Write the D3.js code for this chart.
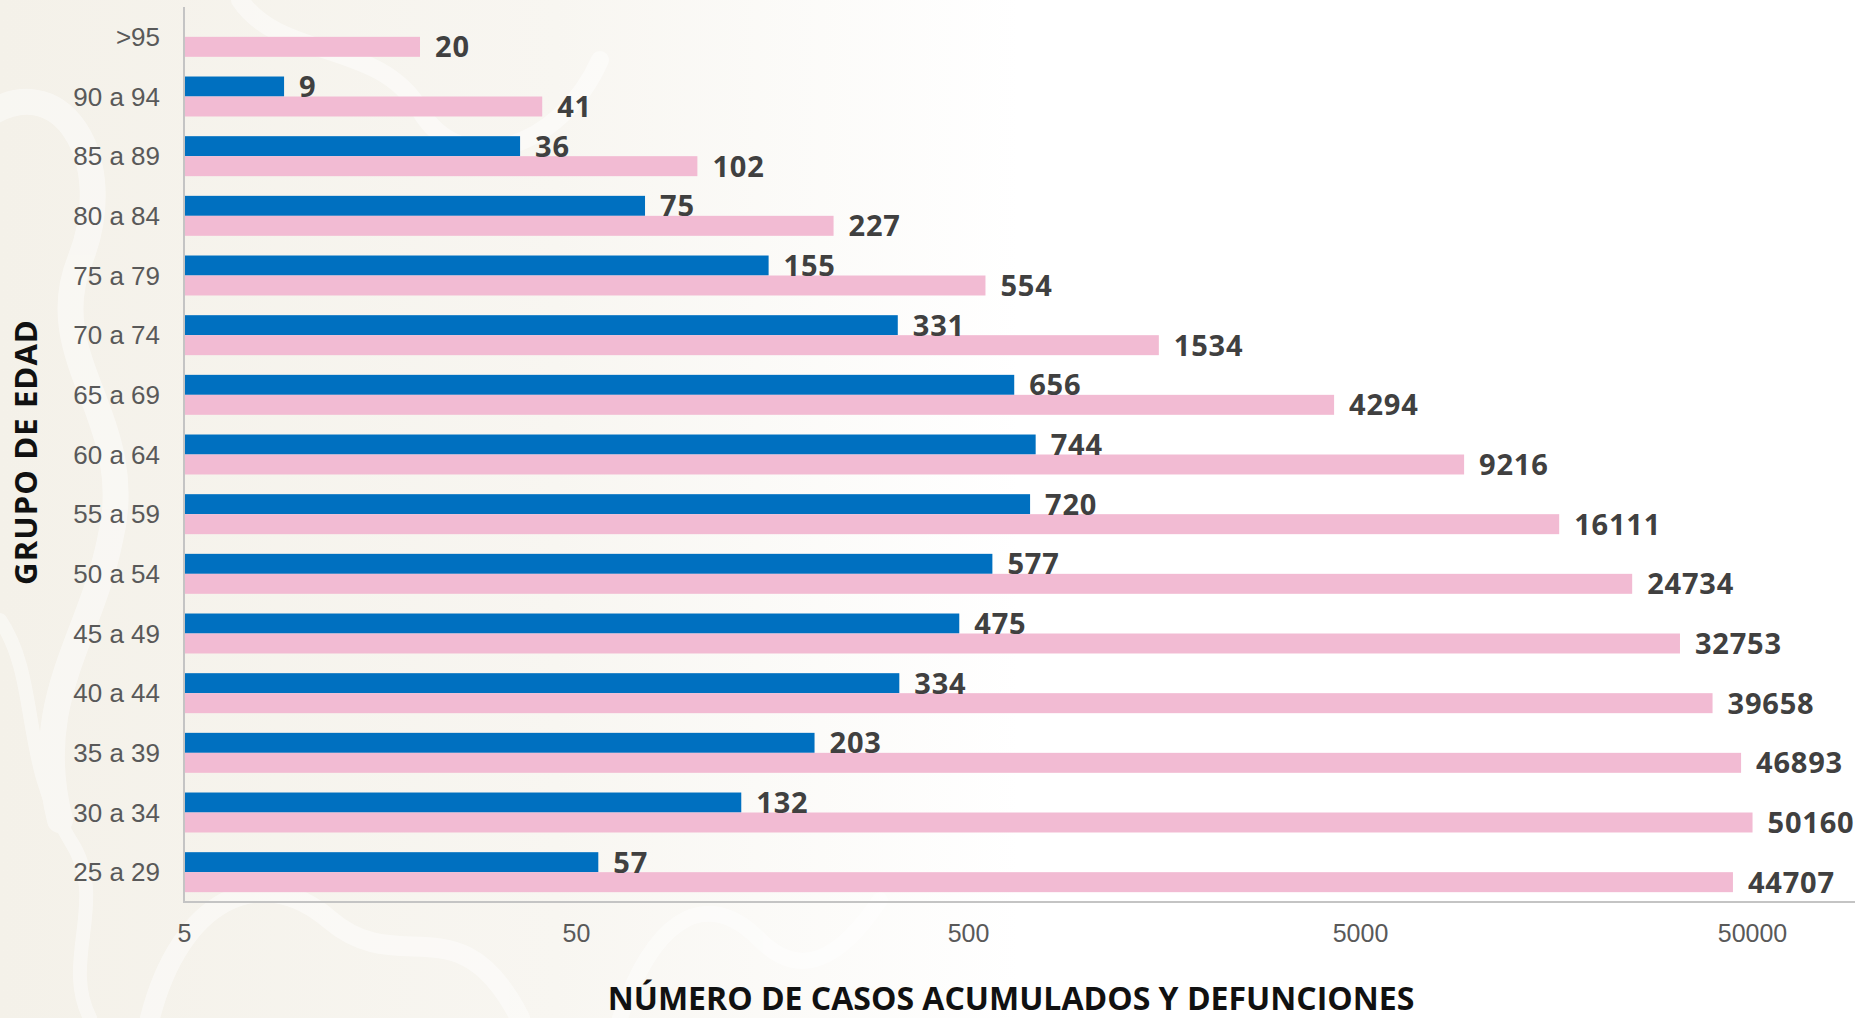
<!DOCTYPE html>
<html>
<head>
<meta charset="utf-8">
<title>Grupo de edad</title>
<style>
  html, body { margin: 0; padding: 0; background: #ffffff; }
  svg { display: block; }
  .cat text { font-family: "Liberation Sans", Arial, sans-serif; font-size: 26px; fill: #595959; }
  .xaxis text { font-family: "Liberation Sans", Arial, sans-serif; font-size: 25px; fill: #595959; }
  .val { font-family: "Open Sans", "DejaVu Sans", sans-serif; font-weight: 700; font-size: 29px; fill: #404040; letter-spacing: 0.8px; }
  .title { font-family: "Open Sans", "DejaVu Sans", sans-serif; font-weight: 700; fill: #111111; }
</style>
</head>
<body>
<script src="https://cdnjs.cloudflare.com/ajax/libs/d3/7.8.5/d3.min.js"></script>
<script>
// grupos de edad (de arriba hacia abajo)
var grupos = [">95", "90 a 94", "85 a 89", "80 a 84", "75 a 79", "70 a 74", "65 a 69",
              "60 a 64", "55 a 59", "50 a 54", "45 a 49", "40 a 44", "35 a 39", "30 a 34", "25 a 29"];
// defunciones (azul)
var defunciones = [null, 9, 36, 75, 155, 331, 656, 744, 720, 577, 475, 334, 203, 132, 57];
// casos acumulados (rosa)
var casos = [20, 41, 102, 227, 554, 1534, 4294, 9216, 16111, 24734, 32753, 39658, 46893, 50160, 44707];
// marcas del eje x
var ticksX = [5, 50, 500, 5000, 50000];

var width = 1855, height = 1018;
var margin = {left: 184, top: 7, right: 103, bottom: 116};

var svg = d3.select("body").append("svg")
    .attr("width", width)
    .attr("height", height);

// fondo beige que se desvanece a blanco
var defs = svg.append("defs");
var grad = defs.append("linearGradient").attr("id", "fondo")
    .attr("x1", "0").attr("x2", "1").attr("y1", "0").attr("y2", "0");
grad.append("stop").attr("offset", "0%").attr("stop-color", "#f4f1e9");
grad.append("stop").attr("offset", "30%").attr("stop-color", "#f8f6f1");
grad.append("stop").attr("offset", "55%").attr("stop-color", "#ffffff");
svg.append("rect").attr("width", width).attr("height", height).attr("fill", "url(#fondo)");

// adorno de trazos blancos (decorativo, tenue)
var adorno = svg.append("g").attr("fill", "none").attr("stroke", "#ffffff")
    .attr("stroke-linecap", "round").attr("opacity", 0.45);
adorno.append("path").attr("stroke-width", 26)
    .attr("d", "M-20,120 C60,60 120,160 80,260 C40,360 140,420 110,540 C90,640 30,700 60,820");
adorno.append("path").attr("stroke-width", 20)
    .attr("d", "M150,1018 C180,900 260,860 330,920 C400,980 460,900 520,1018");
adorno.append("path").attr("stroke-width", 18)
    .attr("d", "M240,0 C280,60 380,40 420,110 C460,180 560,150 600,60");
adorno.append("path").attr("stroke-width", 16)
    .attr("d", "M620,1018 C650,930 700,880 760,940 C800,980 840,960 880,900");
adorno.append("path").attr("stroke-width", 14)
    .attr("d", "M0,620 C40,680 20,760 70,840 C110,900 60,960 90,1018");

var x = d3.scaleLog()
    .domain([5, 50000])
    .range([margin.left, 1752]);

var y = d3.scaleBand()
    .domain(grupos)
    .range([margin.top, height - margin.bottom])
    .paddingInner(0.33)
    .paddingOuter(0.165);

var bh = y.bandwidth() / 2;

// barras de defunciones
svg.append("g").selectAll("rect")
    .data(grupos.map(function(g, i) { return {g: g, v: defunciones[i]}; })
        .filter(function(d) { return d.v != null; }))
    .enter().append("rect")
    .attr("x", x(5))
    .attr("y", function(d) { return y(d.g); })
    .attr("width", function(d) { return x(d.v) - x(5); })
    .attr("height", bh)
    .attr("fill", "#0070c0");

// barras de casos
svg.append("g").selectAll("rect")
    .data(grupos.map(function(g, i) { return {g: g, v: casos[i]}; }))
    .enter().append("rect")
    .attr("x", x(5))
    .attr("y", function(d) { return y(d.g) + bh; })
    .attr("width", function(d) { return x(d.v) - x(5); })
    .attr("height", bh)
    .attr("fill", "#f2bbd3");

// etiquetas de valor
svg.append("g").selectAll("text")
    .data(grupos.map(function(g, i) { return {g: g, v: defunciones[i]}; })
        .filter(function(d) { return d.v != null; }))
    .enter().append("text")
    .attr("class", "val")
    .attr("x", function(d) { return x(d.v) + 15; })
    .attr("y", function(d) { return y(d.g) + bh / 2; })
    .attr("dy", "0.36em")
    .text(function(d) { return d.v; });

svg.append("g").selectAll("text")
    .data(grupos.map(function(g, i) { return {g: g, v: casos[i]}; }))
    .enter().append("text")
    .attr("class", "val")
    .attr("x", function(d) { return x(d.v) + 15; })
    .attr("y", function(d) { return y(d.g) + bh * 1.5; })
    .attr("dy", "0.36em")
    .text(function(d) { return d.v; });

// eje y (categorias)
var yAxis = svg.append("g")
    .attr("class", "cat")
    .attr("transform", "translate(" + margin.left + ",0)")
    .call(d3.axisLeft(y).tickSize(0).tickPadding(24));
yAxis.select(".domain").remove();
yAxis.selectAll("text").attr("dy", "0.35em");

// eje x
var xAxis = svg.append("g")
    .attr("class", "xaxis")
    .attr("transform", "translate(0," + (height - margin.bottom) + ")")
    .call(d3.axisBottom(x).tickValues(ticksX).tickFormat(d3.format("d")).tickSize(0).tickPadding(22));
xAxis.select(".domain").remove();
xAxis.selectAll("text").attr("dy", "0.71em");

// lineas de los ejes
svg.append("line")
    .attr("x1", margin.left).attr("x2", margin.left)
    .attr("y1", margin.top).attr("y2", height - margin.bottom)
    .attr("stroke", "#c4c4c4").attr("stroke-width", 2);
svg.append("line")
    .attr("x1", margin.left - 1).attr("x2", width)
    .attr("y1", height - margin.bottom).attr("y2", height - margin.bottom)
    .attr("stroke", "#c4c4c4").attr("stroke-width", 2);

// titulos
svg.append("text")
    .attr("class", "title")
    .attr("x", 1011)
    .attr("y", 998)
    .attr("dy", "0.36em")
    .attr("text-anchor", "middle")
    .style("font-size", "32px")
    .text("NÚMERO DE CASOS ACUMULADOS Y DEFUNCIONES");

svg.append("text")
    .attr("class", "title")
    .attr("transform", "translate(26,452) rotate(-90)")
    .attr("dy", "0.36em")
    .attr("text-anchor", "middle")
    .style("font-size", "31px")
    .style("letter-spacing", "1.1px")
    .text("GRUPO DE EDAD");
</script>
</body>
</html>
